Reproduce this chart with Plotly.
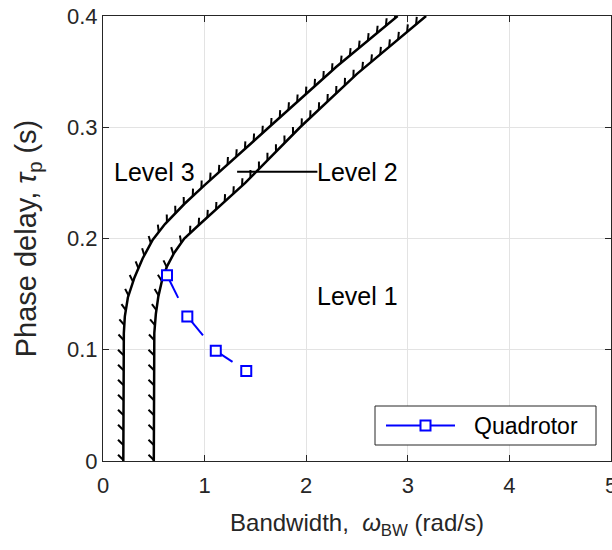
import numpy as np
import plotly.graph_objects as go

# ---------------- data ----------------
# Level 2 / Level 3 boundary (left curve)
l23_bw = [0.2, 0.2, 0.205, 0.215, 0.245, 0.31, 0.39, 0.49, 0.61, 0.8, 1.0, 1.65, 2.3, 2.9]
l23_tau = [0.0, 0.1, 0.115, 0.13, 0.147, 0.165, 0.182, 0.199, 0.213, 0.231, 0.248, 0.3013, 0.3546, 0.4]
# Level 1 / Level 2 boundary (right curve)
l12_bw = [0.5, 0.5, 0.505, 0.52, 0.545, 0.58, 0.63, 0.7, 0.8, 0.93, 1.1, 1.4, 1.94, 2.5, 3.18]
l12_tau = [0.0, 0.1, 0.115, 0.132, 0.148, 0.162, 0.175, 0.187, 0.2, 0.211, 0.225, 0.25, 0.3, 0.348, 0.4]
# Quadrotor points
quad_bw = [0.63, 0.83, 1.11, 1.41]
quad_tau = [0.167, 0.130, 0.099, 0.081]

x_ticks = [0, 1, 2, 3, 4, 5]
y_ticks = [0, 0.1, 0.2, 0.3, 0.4]
y_tick_text = ["0", "0.1", "0.2", "0.3", "0.4"]
x_range = [0, 5]
y_range = [0, 0.4]

# ---------------- layout geometry ----------------
W, H = 612, 550
ML, MR, MT, MB = 103, 1, 16, 89
PW, PH = W - ML - MR, H - MT - MB
SX = PW / (x_range[1] - x_range[0])
SY = PH / (y_range[1] - y_range[0])

TXT = "#262626"
BLUE = "#0000ff"
FONT = "Liberation Sans, Arial, sans-serif"


def px2paper(px, py):
    return (px - ML) / PW, (H - MB - py) / PH


def hatch(xs, ys, len_px=7.5, ang=45.0):
    X = np.array(xs) * SX
    Y = np.array(ys) * SY
    seg = np.hypot(np.diff(X), np.diff(Y))
    cum = np.concatenate([[0.0], np.cumsum(seg)])
    hx, hy = [], []
    s = 1.0
    a = np.deg2rad(ang)
    while s < cum[-1] - 2:
        i = int(min(np.searchsorted(cum, s, side="right") - 1, len(seg) - 1))
        t = (s - cum[i]) / seg[i]
        px = X[i] + t * (X[i + 1] - X[i])
        py = Y[i] + t * (Y[i + 1] - Y[i])
        tx = (X[i + 1] - X[i]) / seg[i]
        ty = (Y[i + 1] - Y[i]) / seg[i]
        dx = tx * np.cos(a) - ty * np.sin(a)
        dy = tx * np.sin(a) + ty * np.cos(a)
        hx += [px / SX, (px + len_px * dx) / SX, None]
        hy += [py / SY, (py + len_px * dy) / SY, None]
        step = 11.7 + 3.3 * max(0.0, (abs(ty) - 0.67) / 0.33)
        s += step
    return hx, hy


fig = go.Figure()

for bx, by in [(l23_bw, l23_tau), (l12_bw, l12_tau)]:
    hx, hy = hatch(bx, by)
    fig.add_trace(go.Scatter(x=hx, y=hy, mode="lines", line=dict(color="black", width=2.0),
                             showlegend=False, hoverinfo="skip"))
    fig.add_trace(go.Scatter(x=bx, y=by, mode="lines", line=dict(color="black", width=2.5),
                             showlegend=False, hoverinfo="skip"))

# Quadrotor: markers with partial connecting segments
frac = 0.55
qx, qy, qs, qo = [], [], [], []
for i in range(len(quad_bw)):
    qx.append(quad_bw[i]); qy.append(quad_tau[i]); qs.append(10); qo.append(1)
    if i < len(quad_bw) - 1:
        qx.append(quad_bw[i] + frac * (quad_bw[i + 1] - quad_bw[i]))
        qy.append(quad_tau[i] + frac * (quad_tau[i + 1] - quad_tau[i]))
        qs.append(0); qo.append(0)
        qx.append(None); qy.append(None); qs.append(0); qo.append(0)

fig.add_trace(go.Scatter(
    x=qx, y=qy, mode="lines+markers", name="Quadrotor",
    line=dict(color=BLUE, width=2),
    marker=dict(symbol="square", size=qs, opacity=qo, color="white",
                line=dict(width=2, color=BLUE)),
    connectgaps=False, showlegend=False,
))

# Level 2 pointer line
fig.add_shape(type="line", x0=1.32, x1=2.11, y0=0.26, y1=0.26, xref="x", yref="y",
              line=dict(color="black", width=2))

ann_font = dict(family=FONT, size=25, color="black")
fig.add_annotation(x=0.51, y=0.26, text="Level 3", showarrow=False, font=ann_font, xanchor="center", yanchor="middle")
fig.add_annotation(x=2.087, y=0.26, text="Level 2", showarrow=False, font=ann_font, xanchor="left", yanchor="middle")
fig.add_annotation(x=2.5, y=0.148, text="Level 1", showarrow=False, font=ann_font, xanchor="center", yanchor="middle")

# ---- legend box (drawn in paper space) ----
bx0, by0 = px2paper(375, 445)
bx1, by1 = px2paper(596, 406)
fig.add_shape(type="rect", xref="paper", yref="paper", x0=bx0, x1=bx1, y0=by0, y1=by1,
              line=dict(color=TXT, width=1), fillcolor="white", layer="above")
lx0, ly = px2paper(386, 425.5)
lx1, _ = px2paper(455, 425.5)
fig.add_shape(type="line", xref="paper", yref="paper", x0=lx0, x1=lx1, y0=ly, y1=ly,
              line=dict(color=BLUE, width=2), layer="above")
mx, _ = px2paper(425.5, 425.5)
fig.add_shape(type="rect", xref="paper", yref="paper", xsizemode="pixel", ysizemode="pixel",
              xanchor=mx, yanchor=ly, x0=-5, x1=5, y0=-5, y1=5,
              line=dict(color=BLUE, width=2), fillcolor="white", layer="above")
tx, _ = px2paper(472, 425.5)
fig.add_annotation(xref="paper", yref="paper", x=tx, y=ly, text="Quadrotor", showarrow=False,
                   xanchor="left", yanchor="middle", font=dict(family=FONT, size=23, color="black"))

axis_common = dict(
    showline=True, linecolor=TXT, linewidth=1, mirror="ticks",
    ticks="inside", ticklen=6, tickcolor=TXT, tickwidth=1,
    showgrid=True, gridcolor="#e3e3e3", gridwidth=1,
    zeroline=False, tickfont=dict(family=FONT, size=22, color=TXT),
    ticklabeloverflow="allow",
)

fig.update_layout(
    width=W, height=H,
    margin=dict(l=ML, r=MR, t=MT, b=MB, autoexpand=False),
    paper_bgcolor="white", plot_bgcolor="white",
    font=dict(family=FONT, color=TXT),
    xaxis=dict(range=x_range, tickvals=x_ticks, ticktext=[str(v) for v in x_ticks],
               ticklabelstandoff=5,
               title=dict(text="Bandwidth,  <i>ω</i><sub>BW</sub> (rad/s)",
                          font=dict(family=FONT, size=24, color=TXT), standoff=16),
               **axis_common),
    yaxis=dict(range=y_range, tickvals=y_ticks, ticktext=y_tick_text,
               title=dict(text="Phase delay, <i>τ</i><sub>p</sub> (s)",
                          font=dict(family=FONT, size=29, color=TXT), standoff=21),
               **axis_common),
    showlegend=False,
)

fig.write_html("out.html", config={"displayModeBar": False},
               post_script="document.body.style.margin='0';document.body.style.overflow='hidden';")
